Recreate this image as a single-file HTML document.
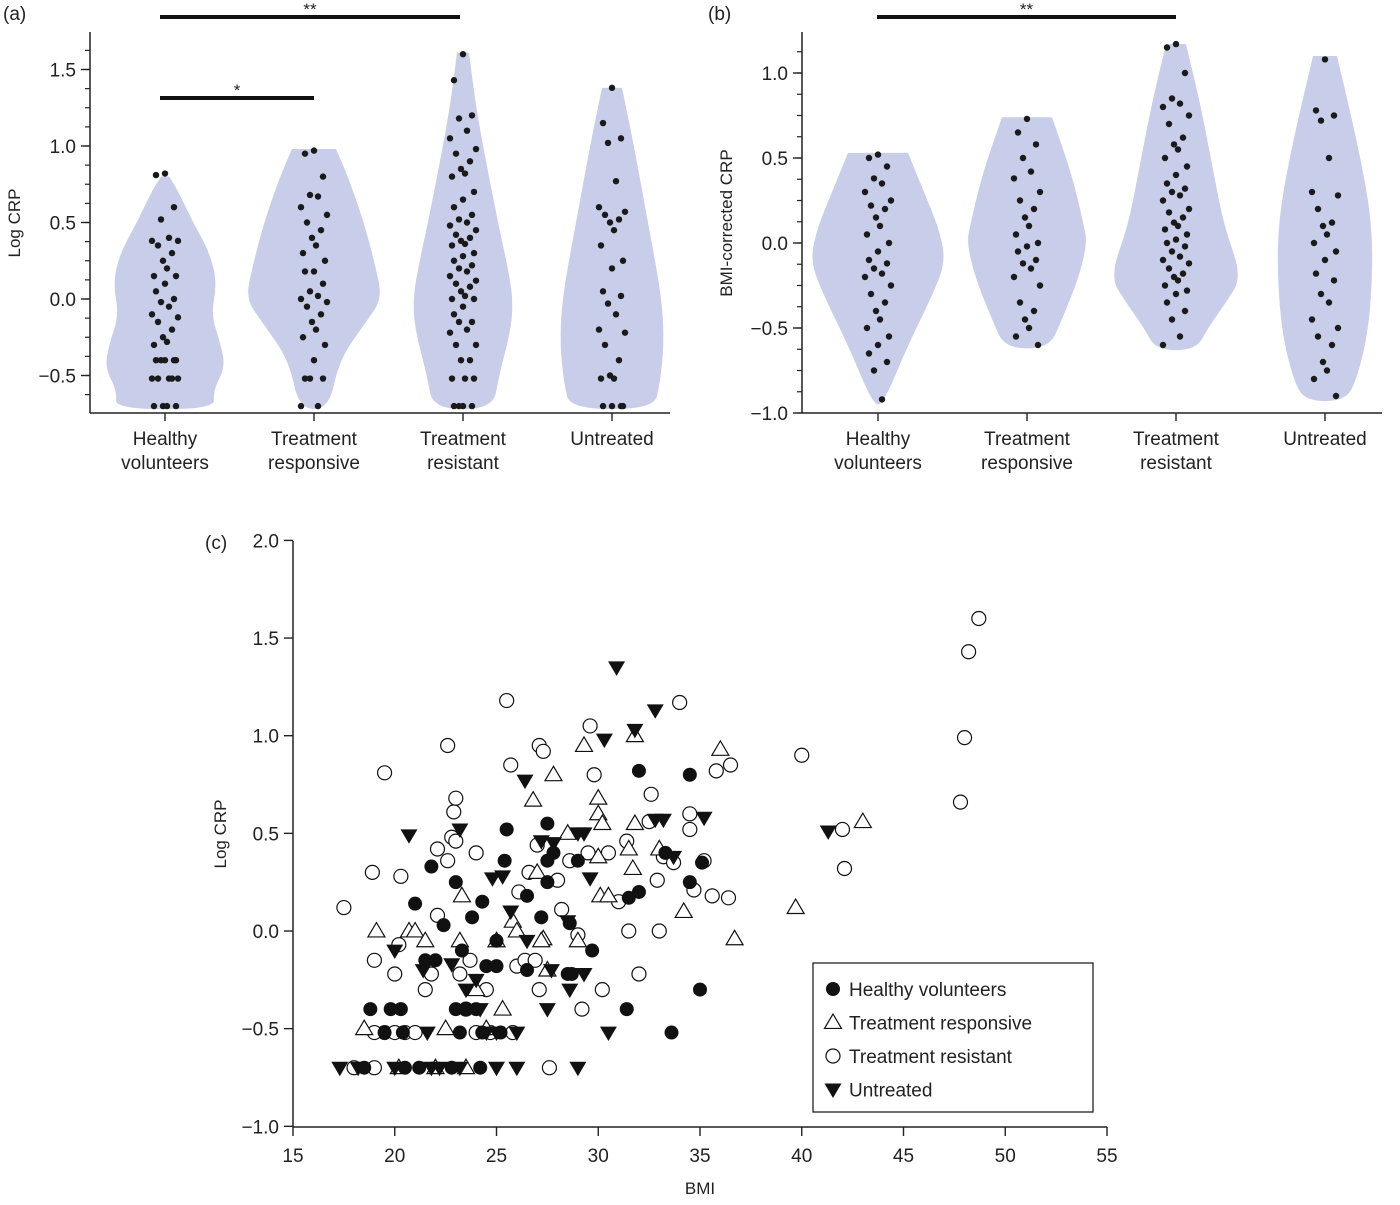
<!DOCTYPE html>
<html><head><meta charset="utf-8"><style>
body{margin:0;background:#fff;}
svg text{font-family:"Liberation Sans",sans-serif;fill:#222;}
</style></head><body>
<svg id="chart" width="1400" height="1200" viewBox="0 0 1400 1200" xmlns="http://www.w3.org/2000/svg"></svg>
<script>
// ---------- data ----------
const groups = ["Healthy volunteers","Treatment responsive","Treatment resistant","Untreated"];
const groupLines = [["Healthy","volunteers"],["Treatment","responsive"],["Treatment","resistant"],["Untreated",""]];
const aTicks = [1.5,1.0,0.5,0.0,-0.5];
const aTickLabels = ["1.5","1.0","0.5","0.0","\u22120.5"];
const bTicks = [1.0,0.5,0.0,-0.5,-1.0];
const bTickLabels = ["1.0","0.5","0.0","\u22120.5","\u22121.0"];
const cXTicks = [15,20,25,30,35,40,45,50,55];
const cYTicks = [2.0,1.5,1.0,0.5,0.0,-0.5,-1.0];
const cYTickLabels = ["2.0","1.5","1.0","0.5","0.0","\u22120.5","\u22121.0"];
// violin profiles: [value, halfwidth-in-px]
const aViolinHV = [[0.8,4],[0.72,12],[0.5,28],[0.3,45],[0.1,52],[-0.1,46],[-0.3,56],[-0.45,60],[-0.6,48],[-0.72,50]];
const aViolinTR = [[0.98,22],[0.8,34],[0.5,50],[0.2,62],[0.0,68],[-0.15,52],[-0.4,25],[-0.72,15]];
const aViolinTRes = [[1.61,6],[1.3,12],[1.0,20],[0.5,35],[0.2,45],[0.0,50],[-0.2,48],[-0.5,36],[-0.72,30]];
const aViolinU = [[1.38,10],[1.0,22],[0.5,36],[0.0,50],[-0.3,52],[-0.55,48],[-0.72,42]];
const bViolinHV = [[0.53,30],[0.3,46],[0.1,60],[-0.1,68],[-0.3,55],[-0.6,30],[-0.95,5]];
const bViolinTR = [[0.74,25],[0.4,45],[0.1,57],[0.0,60],[-0.2,52],[-0.45,35],[-0.62,22]];
const bViolinTRes = [[1.17,10],[0.8,25],[0.4,38],[0.1,48],[-0.2,66],[-0.35,50],[-0.5,32],[-0.63,20]];
const bViolinU = [[1.1,12],[0.6,32],[0.2,45],[-0.1,48],[-0.5,44],[-0.8,32],[-0.93,20]];
// dot values
const aDotsHV = [0.82,0.81,0.6,0.52,0.4,0.38,0.38,0.35,0.3,0.25,0.2,0.15,0.15,0.1,0.05,0.0,-0.02,-0.05,-0.1,-0.12,-0.15,-0.2,-0.25,-0.28,-0.3,-0.4,-0.4,-0.4,-0.4,-0.4,-0.52,-0.52,-0.52,-0.52,-0.52,-0.7,-0.7,-0.7,-0.7];
const aDotsTR = [0.97,0.95,0.8,0.68,0.67,0.6,0.55,0.5,0.45,0.4,0.35,0.3,0.25,0.18,0.18,0.1,0.05,0.02,0.0,-0.02,-0.05,-0.1,-0.15,-0.2,-0.25,-0.3,-0.4,-0.52,-0.52,-0.52,-0.7,-0.7];
const aDotsTRes = [1.6,1.43,1.2,1.18,1.1,1.05,0.98,0.95,0.9,0.85,0.82,0.8,0.7,0.65,0.6,0.55,0.52,0.5,0.48,0.45,0.42,0.4,0.38,0.36,0.35,0.3,0.28,0.25,0.22,0.2,0.18,0.15,0.12,0.1,0.08,0.05,0.02,0.0,0.0,-0.05,-0.1,-0.15,-0.15,-0.2,-0.22,-0.3,-0.3,-0.4,-0.4,-0.52,-0.52,-0.52,-0.7,-0.7,-0.7,-0.7];
const aDotsU = [1.38,1.15,1.05,1.02,0.77,0.6,0.57,0.55,0.52,0.5,0.45,0.35,0.25,0.2,0.05,0.02,-0.03,-0.1,-0.2,-0.22,-0.3,-0.4,-0.5,-0.52,-0.52,-0.7,-0.7,-0.7,-0.7];
const bDotsHV = [0.52,0.5,0.45,0.38,0.35,0.3,0.25,0.22,0.2,0.15,0.1,0.05,0.0,-0.05,-0.1,-0.12,-0.15,-0.18,-0.2,-0.25,-0.3,-0.35,-0.4,-0.45,-0.5,-0.55,-0.6,-0.65,-0.7,-0.75,-0.92];
const bDotsTR = [0.73,0.65,0.58,0.5,0.42,0.38,0.3,0.25,0.2,0.15,0.1,0.05,0.0,-0.02,-0.05,-0.1,-0.12,-0.15,-0.2,-0.25,-0.35,-0.4,-0.45,-0.5,-0.55,-0.6];
const bDotsTRes = [1.17,1.15,1.0,0.85,0.82,0.8,0.75,0.7,0.62,0.58,0.55,0.5,0.45,0.4,0.35,0.32,0.3,0.28,0.25,0.2,0.18,0.15,0.12,0.1,0.08,0.05,0.02,0.0,-0.02,-0.05,-0.08,-0.1,-0.12,-0.15,-0.18,-0.2,-0.22,-0.25,-0.28,-0.3,-0.35,-0.4,-0.45,-0.55,-0.6];
const bDotsU = [1.08,0.78,0.75,0.72,0.5,0.3,0.28,0.2,0.12,0.1,0.05,0.0,-0.05,-0.1,-0.18,-0.22,-0.3,-0.35,-0.45,-0.5,-0.55,-0.6,-0.7,-0.75,-0.8,-0.9];
// scatter (c): [BMI, logCRP]
const cHealthy = [[18.8,-0.4],[19.5,-0.52],[19.8,-0.4],[20.3,-0.4],[20.4,-0.52],[18.5,-0.7],[20.5,-0.7],[21,0.14],[21.5,-0.15],[22.4,0.03],[21.8,0.33],[23,0.25],[23.3,-0.1],[23.8,0.07],[24.3,0.15],[24.5,-0.18],[23,-0.4],[23.5,-0.4],[24,-0.4],[24.3,-0.52],[23.2,-0.52],[22.8,-0.7],[24.2,-0.7],[25,-0.18],[25,-0.05],[25.4,0.36],[25.5,0.52],[26.5,0.18],[27.2,0.07],[27.5,0.25],[27.5,0.36],[27.8,0.4],[27.5,0.55],[28.6,0.04],[29,0.36],[29.7,-0.1],[28.5,-0.22],[25.2,-0.52],[32,0.82],[31.5,0.17],[32,0.2],[31.4,-0.4],[33.3,0.4],[33.6,-0.52],[34.5,0.8],[34.5,0.25],[35,-0.3],[35.1,0.35],[21.2,-0.7],[22,-0.15],[26.5,-0.2],[28.7,-0.22]];
const cResponsive = [[19.1,0.0],[18.5,-0.5],[20.7,0.0],[21,0.0],[21.5,-0.05],[20.2,-0.7],[22.5,-0.5],[23.3,0.18],[23.2,-0.05],[24,-0.3],[24.5,-0.5],[23.5,-0.7],[25.3,-0.4],[25.8,0.05],[26,0.0],[26.8,0.67],[27,0.3],[27.3,-0.04],[27.5,-0.2],[27.8,0.8],[28.5,0.5],[29,-0.05],[29.3,0.95],[30,0.6],[30,0.68],[30.2,0.55],[30,0.38],[30.1,0.18],[30.5,0.18],[31.5,0.42],[31.7,0.32],[31.8,0.55],[31.8,1.0],[33,0.42],[34.2,0.1],[36,0.93],[36.7,-0.04],[39.7,0.12],[43,0.56],[22,-0.7],[25,-0.05],[27.2,-0.05]];
const cResistant = [[17.5,0.12],[19.5,0.81],[18.9,0.3],[19,-0.15],[19.5,-0.52],[19,-0.52],[18,-0.7],[19,-0.7],[20,-0.22],[20.2,-0.07],[20.3,0.28],[20.5,-0.52],[21,-0.52],[21.8,-0.22],[21.5,-0.3],[22.1,0.08],[22.1,0.42],[22.6,0.95],[22.8,0.48],[22.9,0.61],[23,0.68],[22.6,0.36],[23,0.46],[23.2,-0.22],[23.7,-0.15],[23.5,-0.4],[24,0.4],[24.5,-0.3],[24.7,-0.52],[25.5,1.18],[25.7,0.85],[26,-0.18],[26.1,0.2],[26.4,-0.15],[26.9,-0.15],[26.6,0.3],[27.1,0.95],[27.3,0.92],[27,0.44],[27.1,-0.3],[27.6,-0.7],[28,0.26],[28.2,0.11],[28.6,0.36],[29,-0.02],[29.2,-0.4],[29.5,0.4],[29.6,1.05],[29.8,0.8],[30.2,-0.3],[30.5,0.4],[31,0.15],[31.4,0.46],[31.5,0.0],[32,-0.22],[32.5,0.56],[32.6,0.7],[32.9,0.26],[33,0.0],[33.2,0.38],[33.7,0.35],[34,1.17],[34.5,0.52],[34.5,0.6],[34.7,0.21],[35.2,0.36],[35.6,0.18],[35.8,0.82],[36.5,0.85],[36.4,0.17],[40,0.9],[42,0.52],[42.1,0.32],[47.8,0.66],[48,0.99],[48.2,1.43],[48.7,1.6],[25.8,-0.52],[20,-0.52],[24,-0.52]];
const cUntreated = [[17.3,-0.7],[18.2,-0.7],[20,-0.7],[20,-0.1],[20.7,0.49],[21.4,-0.2],[21.6,-0.52],[21.8,-0.7],[22.2,-0.7],[23.2,0.52],[22.8,-0.17],[23.2,-0.7],[23.5,-0.3],[24,-0.25],[24.2,-0.4],[24.8,0.27],[24.5,-0.52],[25,-0.7],[25.3,0.28],[25.7,0.1],[26,-0.52],[26,-0.7],[26.4,0.77],[26.5,-0.05],[27.2,0.46],[27.8,0.45],[27.5,-0.4],[27.7,-0.2],[28.5,0.05],[28.6,-0.3],[29,0.5],[29.3,0.5],[29,-0.7],[29.3,-0.22],[29.6,0.27],[30.3,0.98],[30.5,-0.52],[30.9,1.35],[31.8,1.03],[32.8,1.13],[32.8,0.57],[33.2,0.57],[33.7,0.38],[35.2,0.58],[41.3,0.51],[25,-0.52]];

// ---------- helpers ----------
const svg = document.getElementById('chart');
const NS = "http://www.w3.org/2000/svg";
function mk(tag, attrs, parent){const e=document.createElementNS(NS,tag);for(const k in attrs)e.setAttribute(k,attrs[k]);(parent||svg).appendChild(e);return e;}
function txt(x,y,s,size,anchor,parent){const t=mk('text',{x:x,y:y,'font-size':size,'text-anchor':anchor||'middle'},parent);t.textContent=s;return t;}

// axis functions
const aY = v => 299 - v*153;
const bY = v => 243 - v*170;
const aX = i => 165 + i*149;
const bX = i => 878 + i*149;
const cX = v => 293 + (v-15)*20.35;
const cY = v => 931 - v*195.3;
const jitter = [0,-9,9,-4,4,-13,13,-7,7,-2,2,-11,11];

function violin(name, cx, prof, yf){
  let L=[],R=[];
  prof.forEach(p=>{R.push((cx+p[1])+','+yf(p[0]));L.unshift((cx-p[1])+','+yf(p[0]));});
  // smooth using polyline with curve
  const pts = R.concat(L).map(s=>s.split(',').map(Number));
  let d='M'+pts[0][0]+','+pts[0][1];
  for(let i=1;i<pts.length;i++){const p=pts[i-1],q=pts[i];d+=' Q'+p[0]+','+p[1]+' '+((p[0]+q[0])/2)+','+((p[1]+q[1])/2);}
  d+=' L'+pts[pts.length-1][0]+','+pts[pts.length-1][1]+'Z';
  const el=mk('path',{d:d,fill:'#c8cde9',stroke:'none'});
  
  
}
function dots(name, cx, vals, yf){
  const g=mk('g',{});
  
  
  vals.forEach((v,i)=>{
    const c=mk('circle',{cx:cx+jitter[i%jitter.length],cy:yf(v),r:3.2,fill:'#1a1a1a'},g);
    
    
  });
}
function violinPanel(px, yf, ticks, labels, viols, dotsets, axisX, xf, ylab, minors){
  const g=mk('g',{});
  
  
  viols.forEach((p,i)=>violin(px+'-violin-'+i, xf(i), p, yf));
  dotsets.forEach((d,i)=>dots(px+'-dots-'+i, xf(i), d, yf));
  mk('line',{x1:axisX,y1:32,x2:axisX,y2:413,stroke:'#222','stroke-width':1.5});
  mk('line',{x1:axisX,y1:413,x2:axisX+580,y2:413,stroke:'#222','stroke-width':1.5});
  minors.forEach(v=>mk('line',{x1:axisX-5,y1:yf(v),x2:axisX,y2:yf(v),stroke:'#222','stroke-width':1.2}));
  ticks.forEach((v,i)=>{mk('line',{x1:axisX-9,y1:yf(v),x2:axisX,y2:yf(v),stroke:'#222','stroke-width':1.4});
    const t=txt(axisX-14,yf(v)+7,labels[i],19,'end');});
  groups.forEach((gname,i)=>{mk('line',{x1:xf(i),y1:413,x2:xf(i),y2:421,stroke:'#222','stroke-width':1.4});
    const t=txt(xf(i),445,groupLines[i][0],19);
    if(groupLines[i][1]){const t2=txt(xf(i),469,groupLines[i][1],19);}
  });
  const yl=txt(0,0,ylab,17);yl.setAttribute('transform','translate('+(axisX-70)+',223) rotate(-90)');
  
  
}

// panel a
const aMinor=[];for(let v=-0.75;v<=1.7;v+=0.125)aMinor.push(v);
violinPanel('a', aY, aTicks, aTickLabels, [aViolinHV,aViolinTR,aViolinTRes,aViolinU], [aDotsHV,aDotsTR,aDotsTRes,aDotsU], 90, aX, 'Log CRP', aMinor.filter(v=>aY(v)>=32&&aY(v)<=413));
// panel b
const bMinor=[];for(let v=-1.0;v<=1.3;v+=0.125)bMinor.push(v);
violinPanel('b', bY, bTicks, bTickLabels, [bViolinHV,bViolinTR,bViolinTRes,bViolinU], [bDotsHV,bDotsTR,bDotsTRes,bDotsU], 802, bX, 'BMI-corrected CRP', bMinor.filter(v=>bY(v)>=32&&bY(v)<=413));
// adjust b ylabel position
// significance bars
[[160,460,17,'**','sig-bar-a-hv-resistant'],[160,314,98,'*','sig-bar-a-hv-responsive'],[877,1176,17,'**','sig-bar-b-hv-resistant']].forEach(s=>{
  const l=mk('line',{x1:s[0],y1:s[2],x2:s[1],y2:s[2],stroke:'#111','stroke-width':4});
  
  
  txt((s[0]+s[1])/2,s[2]-2,s[3],17);
});
// panel labels
txt(3,20,'(a)',19,'start');
txt(708,20,'(b)',19,'start');
txt(205,549,'(c)',19,'start');

// panel c axes
mk('line',{x1:293,y1:541,x2:293,y2:1127,stroke:'#222','stroke-width':1.5});
mk('line',{x1:293,y1:1127,x2:1107,y2:1127,stroke:'#222','stroke-width':1.5});
cYTicks.forEach((v,i)=>{mk('line',{x1:284,y1:cY(v),x2:293,y2:cY(v),stroke:'#222','stroke-width':1.4});
  const t=txt(279,cY(v)+7,cYTickLabels[i],19,'end');});
cXTicks.forEach(v=>{mk('line',{x1:cX(v),y1:1127,x2:cX(v),y2:1136,stroke:'#222','stroke-width':1.4});
  const t=txt(cX(v),1162,String(v),19);});
const cxl=txt(700,1194,'BMI',17);
const cyl=txt(0,0,'Log CRP',17);cyl.setAttribute('transform','translate(226,834) rotate(-90)');


function marker(kind,x,y,parent){
  const s=8.5;
  if(kind==='fc') return mk('circle',{cx:x,cy:y,r:7,fill:'#111'},parent);
  if(kind==='oc') return mk('circle',{cx:x,cy:y,r:7,fill:'#fff',stroke:'#111','stroke-width':1.2},parent);
  if(kind==='ut') return mk('polygon',{points:(x)+','+(y-s)+' '+(x+s)+','+(y+s*0.7)+' '+(x-s)+','+(y+s*0.7),fill:'#fff',stroke:'#111','stroke-width':1.2},parent);
  return mk('polygon',{points:(x)+','+(y+s)+' '+(x+s)+','+(y-s*0.7)+' '+(x-s)+','+(y-s*0.7),fill:'#111'},parent);
}
[[cResistant,'oc','series-treatment-resistant'],[cResponsive,'ut','series-treatment-responsive'],[cHealthy,'fc','series-healthy-volunteers'],[cUntreated,'dt','series-untreated']].forEach(s=>{
  const g=mk('g',{});
  
  
  s[0].forEach(p=>{const m=marker(s[1],cX(p[0]),cY(p[1]),g);
    
    });
});
// legend
const lg=mk('g',{});


mk('rect',{x:813,y:963,width:280,height:149,fill:'#fff',stroke:'#222','stroke-width':1.3},lg);
[['fc','Healthy volunteers'],['ut','Treatment responsive'],['oc','Treatment resistant'],['dt','Untreated']].forEach((e,i)=>{
  const y=989+i*33.5;
  const eg=mk('g',{},lg);
  
  
  marker(e[0],833,y,eg);
  txt(849,y+7,e[1],19,'start',eg);
});
</script>
</body></html>
